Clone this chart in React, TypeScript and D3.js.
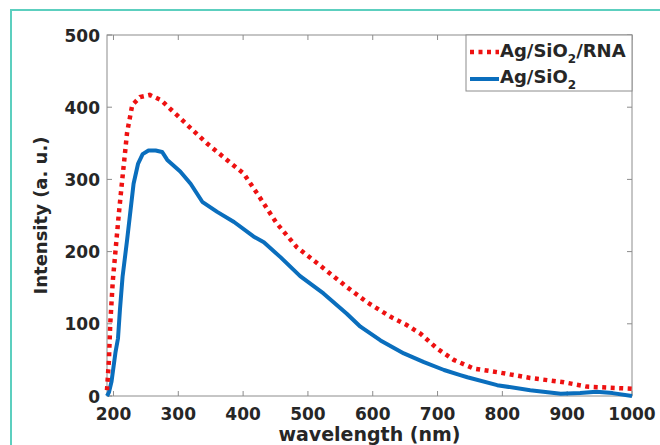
import React from "react";
import * as d3 from "d3";

const rnaWavelength = [190, 193, 195, 199, 203, 208, 213, 221, 229, 241, 256, 273, 298, 319, 344, 375, 401, 422, 452, 483, 524, 560, 591, 627, 653, 674, 699, 725, 756, 792, 843, 895, 930, 1000];
const rnaIntensity = [8, 50, 100, 160, 200, 250, 295, 365, 403, 414, 417, 410, 389, 371, 350, 327, 308, 280, 239, 206, 177, 151, 130, 110, 98, 86, 66, 50, 38, 33, 25, 19, 13, 10];

const agWavelength = [190, 193, 197, 203, 207, 210, 214, 221, 231, 238, 245, 254, 265, 275, 283, 303, 319, 337, 360, 386, 416, 432, 458, 488, 524, 560, 581, 612, 648, 679, 710, 735, 746, 792, 843, 890, 920, 945, 970, 1000];
const agIntensity = [0, 5, 20, 60, 80, 120, 165, 216, 294, 322, 335, 340, 340, 338, 327, 311, 294, 269, 255, 241, 221, 213, 192, 166, 142, 114, 96, 77, 59, 47, 36, 29, 26, 15, 8, 3, 4, 6, 4, 0];

const xTicks = [200, 300, 400, 500, 600, 700, 800, 900, 1000];
const yTicks = [0, 100, 200, 300, 400, 500];

const FONT = "'DejaVu Sans', sans-serif";

export default function App() {
  const W = 660, H = 445;
  const left = 107, right = 632, top = 35, bottom = 396;
  const x = d3.scaleLinear().domain([190, 1000]).range([left, right]);
  const y = d3.scaleLinear().domain([0, 500]).range([bottom, top]);
  const line = d3.line<[number, number]>().x(d => x(d[0])).y(d => y(d[1]));
  const rnaPts = rnaWavelength.map((w, i) => [w, rnaIntensity[i]] as [number, number]);
  const agPts = agWavelength.map((w, i) => [w, agIntensity[i]] as [number, number]);
  const axisColor = "#8c8c8c";
  const red = "#ee1111";
  const blue = "#0a6ebd";
  const tl = 5;
  return (
    <svg width={W} height={H} style={{ position: "absolute", left: 0, top: 0, background: "#fff" }}>
      <rect x={0} y={0} width={W} height={H} fill="#fff" />
      <path d={`M11,${H + 5} V10 H${W + 5}`} fill="none" stroke="#5ccfbf" strokeWidth={2} />
      {/* axes box */}
      <rect x={left} y={top} width={right - left} height={bottom - top} fill="none" stroke={axisColor} strokeWidth={1} />
      {xTicks.map(t => (
        <g key={"x" + t}>
          <line x1={x(t)} x2={x(t)} y1={bottom} y2={bottom - tl} stroke={axisColor} />
          <line x1={x(t)} x2={x(t)} y1={top} y2={top + tl} stroke={axisColor} />
          <text x={x(t)} y={420} textAnchor="middle" fontFamily={FONT} fontWeight="bold" fontSize={17} fill="#262626">{t}</text>
        </g>
      ))}
      {yTicks.map(t => (
        <g key={"y" + t}>
          <line x1={left} x2={left + tl} y1={y(t)} y2={y(t)} stroke={axisColor} />
          <line x1={right} x2={right - tl} y1={y(t)} y2={y(t)} stroke={axisColor} />
          <text x={100} y={y(t) + 6.5} textAnchor="end" fontFamily={FONT} fontWeight="bold" fontSize={17} fill="#262626">{t}</text>
        </g>
      ))}
      <text x={(left + right) / 2} y={441} textAnchor="middle" fontFamily={FONT} fontWeight="bold" fontSize={19} fill="#262626">wavelength (nm)</text>
      <text transform={`translate(47,${(top + bottom) / 2}) rotate(-90)`} textAnchor="middle" fontFamily={FONT} fontWeight="bold" fontSize={18} fill="#262626">Intensity (a. u.)</text>
      {/* data */}
      <path d={line(agPts) || ""} fill="none" stroke={blue} strokeWidth={4} strokeLinejoin="round" />
      <path d={line(rnaPts) || ""} fill="none" stroke={red} strokeWidth={4.5} strokeDasharray="4 4.5" />
      {/* legend */}
      <rect x={466} y={top} width={right - 466} height={56} fill="#fff" stroke={axisColor} strokeWidth={1} />
      <line x1={470} x2={499} y1={52} y2={52} stroke={red} strokeWidth={4.5} strokeDasharray="4 4.5" />
      <text x={500} y={57} fontFamily={FONT} fontWeight="bold" fontSize={18} fill="#262626">
        Ag/SiO<tspan fontSize={12} dy={6}>2</tspan><tspan dy={-6}>/RNA</tspan>
      </text>
      <line x1={470} x2={499} y1={79} y2={79} stroke={blue} strokeWidth={4} />
      <text x={500} y={83} fontFamily={FONT} fontWeight="bold" fontSize={18} fill="#262626">
        Ag/SiO<tspan fontSize={12} dy={6}>2</tspan>
      </text>
    </svg>
  );
}
